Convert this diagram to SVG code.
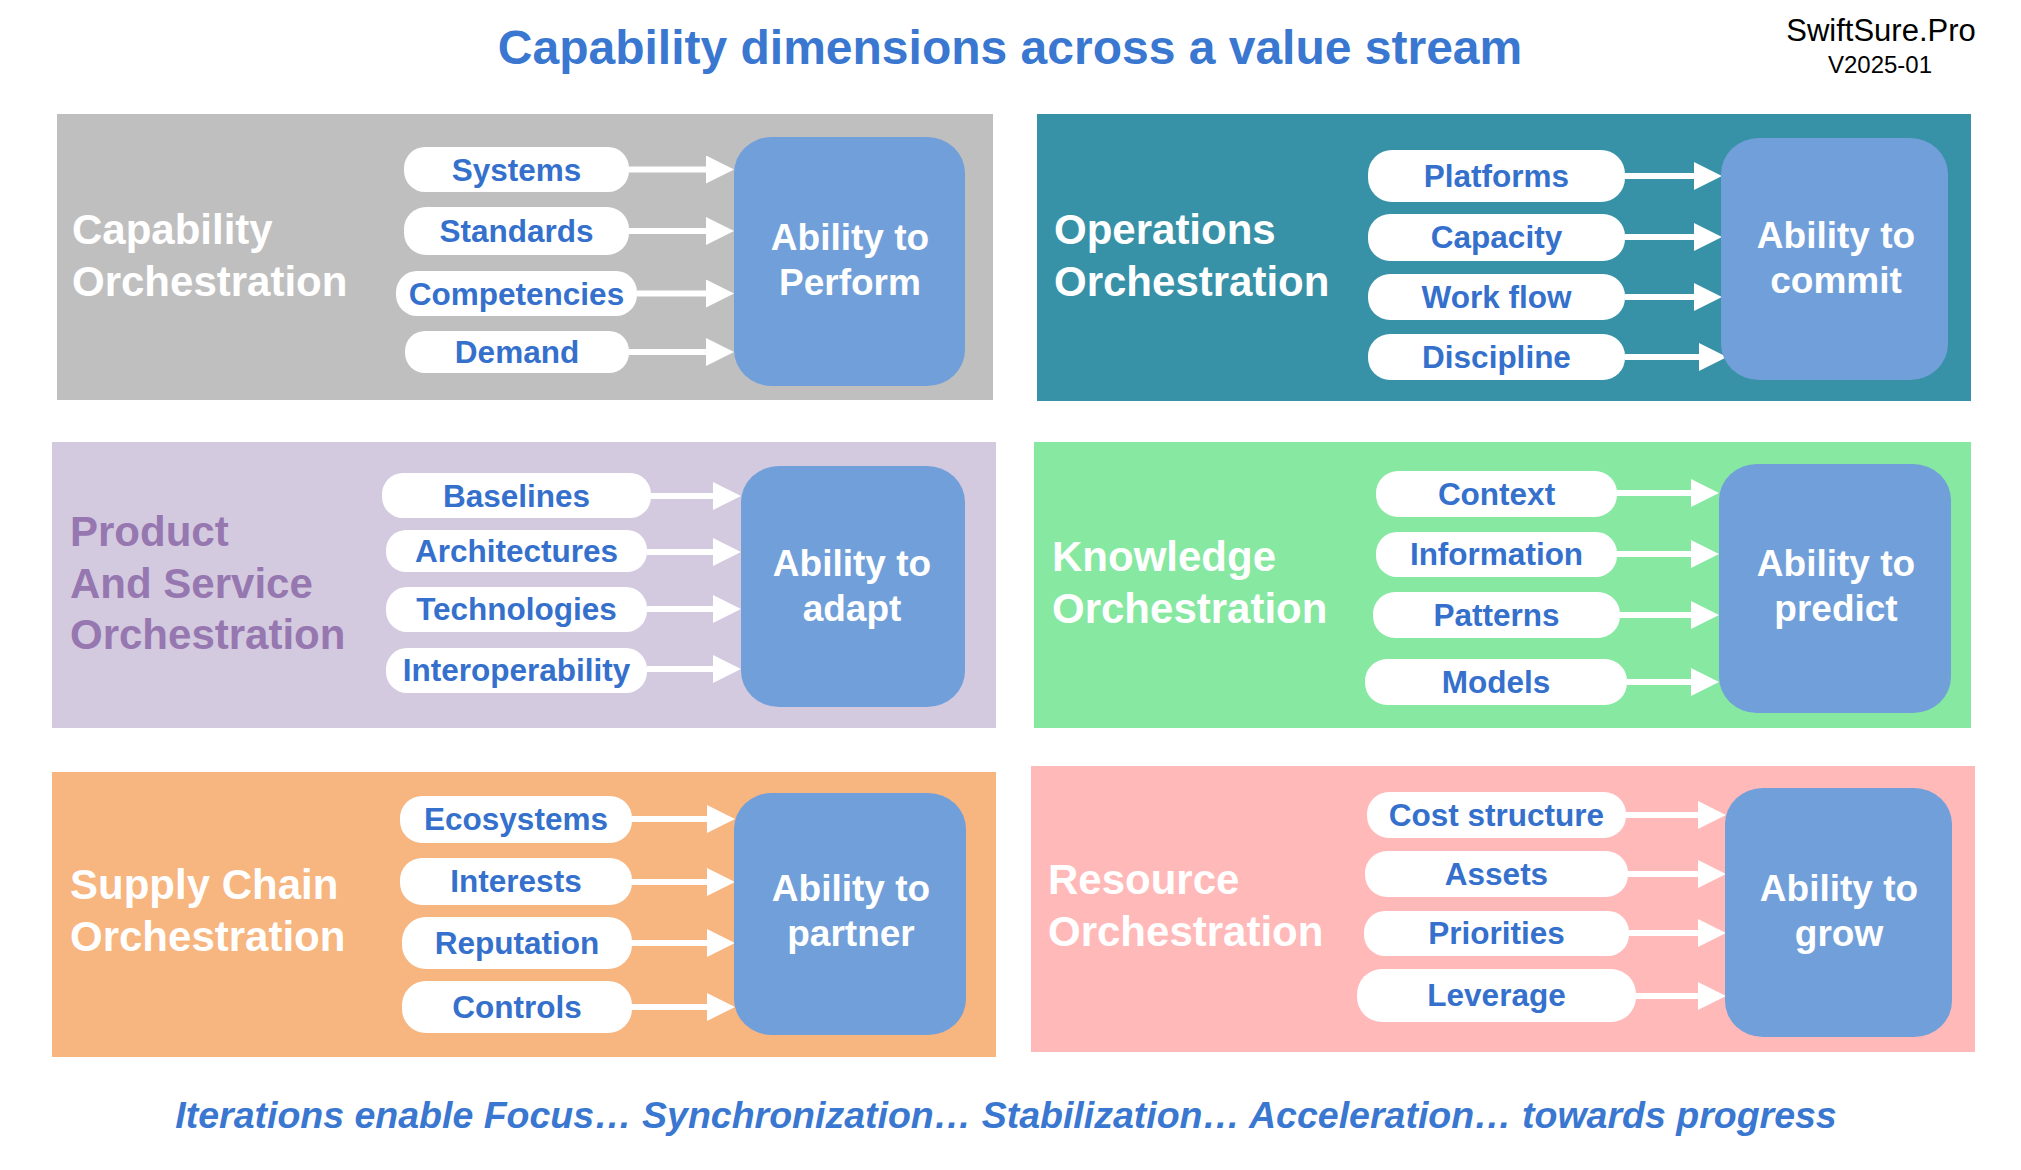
<svg xmlns="http://www.w3.org/2000/svg" width="2021" height="1170" viewBox="0 0 2021 1170">
  <defs>
    <style>
      .txt { font-family: "Liberation Sans", Arial, sans-serif; }
      .heading { font-size: 48px; font-weight: bold; fill: #3A77D0; text-anchor: middle; }
      .brand { font-size: 31px; fill: #000; text-anchor: middle; }
      .ver { font-size: 24px; fill: #000; text-anchor: middle; }
      .footer { font-size: 37.5px; font-weight: bold; font-style: italic; fill: #3A77D0; text-anchor: middle; }
      .ptitle { font-size: 42px; font-weight: bold; fill: #fff; }
      .ptitle.purple { fill: #9677B0; }
      .pill { fill: #fff; }
      .pill-t { font-size: 31.5px; font-weight: bold; fill: #3470CC; text-anchor: middle; }
      .ability { fill: #719FDA; }
      .ability-t { font-size: 37px; font-weight: bold; fill: #fff; text-anchor: middle; }
      .arrow { stroke: #fff; stroke-width: 6; fill: none; marker-end: url(#head); }
    </style>
    <marker id="head" viewBox="0 0 28 28" markerWidth="28" markerHeight="28" refX="0" refY="14" orient="auto" markerUnits="userSpaceOnUse">
      <path d="M0,0 L28,14 L0,28 Z" fill="#fff"/>
    </marker>
  </defs>

  <rect width="2021" height="1170" fill="#fff"/>

  <!-- header -->
  <text class="txt heading" x="1010" y="64">Capability dimensions across a value stream</text>
  <text class="txt brand" x="1881" y="41">SwiftSure.Pro</text>
  <text class="txt ver" x="1880" y="73">V2025-01</text>

  <!-- panel backgrounds -->
  <g id="panel-capability">
    <rect x="57" y="114" width="936" height="286" fill="#BFBFBF"/>
    <text class="txt ptitle" x="72" y="244">Capability</text>
    <text class="txt ptitle" x="72" y="296">Orchestration</text>
  </g>
  <g id="panel-operations">
    <rect x="1037" y="114" width="934" height="287" fill="#3791A7"/>
    <text class="txt ptitle" x="1054" y="244">Operations</text>
    <text class="txt ptitle" x="1054" y="296">Orchestration</text>
  </g>
  <g id="panel-product">
    <rect x="52" y="442" width="944" height="286" fill="#D3CAE0"/>
    <text class="txt ptitle purple" x="70" y="546">Product</text>
    <text class="txt ptitle purple" x="70" y="598">And Service</text>
    <text class="txt ptitle purple" x="70" y="649">Orchestration</text>
  </g>
  <g id="panel-knowledge">
    <rect x="1034" y="442" width="937" height="286" fill="#86E8A1"/>
    <text class="txt ptitle" x="1052" y="571">Knowledge</text>
    <text class="txt ptitle" x="1052" y="623">Orchestration</text>
  </g>
  <g id="panel-supply">
    <rect x="52" y="772" width="944" height="285" fill="#F7B57F"/>
    <text class="txt ptitle" x="70" y="899">Supply Chain</text>
    <text class="txt ptitle" x="70" y="951">Orchestration</text>
  </g>
  <g id="panel-resource">
    <rect x="1031" y="766" width="944" height="286" fill="#FFB9B9"/>
    <text class="txt ptitle" x="1048" y="894">Resource</text>
    <text class="txt ptitle" x="1048" y="946">Orchestration</text>
  </g>

  <!-- connectors -->
  <g id="connectors">
    <line class="arrow" x1="629" y1="169.5" x2="706" y2="169.5"/>
    <line class="arrow" x1="629" y1="231" x2="706" y2="231"/>
    <line class="arrow" x1="637" y1="293.5" x2="706" y2="293.5"/>
    <line class="arrow" x1="629" y1="352" x2="706" y2="352"/>

    <line class="arrow" x1="1625" y1="176" x2="1694" y2="176"/>
    <line class="arrow" x1="1625" y1="237" x2="1694" y2="237"/>
    <line class="arrow" x1="1625" y1="297" x2="1694" y2="297"/>
    <line class="arrow" x1="1625" y1="357" x2="1699" y2="357"/>

    <line class="arrow" x1="651" y1="496" x2="713" y2="496"/>
    <line class="arrow" x1="647" y1="552" x2="713" y2="552"/>
    <line class="arrow" x1="647" y1="609" x2="713" y2="609"/>
    <line class="arrow" x1="647" y1="669" x2="713" y2="669"/>

    <line class="arrow" x1="1617" y1="493" x2="1691" y2="493"/>
    <line class="arrow" x1="1617" y1="554" x2="1691" y2="554"/>
    <line class="arrow" x1="1620" y1="615" x2="1691" y2="615"/>
    <line class="arrow" x1="1627" y1="682" x2="1691" y2="682"/>

    <line class="arrow" x1="632" y1="819" x2="707" y2="819"/>
    <line class="arrow" x1="632" y1="882" x2="707" y2="882"/>
    <line class="arrow" x1="632" y1="943" x2="707" y2="943"/>
    <line class="arrow" x1="632" y1="1007" x2="707" y2="1007"/>

    <line class="arrow" x1="1626" y1="815" x2="1698" y2="815"/>
    <line class="arrow" x1="1628" y1="874" x2="1698" y2="874"/>
    <line class="arrow" x1="1629" y1="933" x2="1698" y2="933"/>
    <line class="arrow" x1="1636" y1="996" x2="1698" y2="996"/>
  </g>

  <!-- dimension pills -->
  <g id="pill-systems"><rect class="pill" x="404" y="147" width="225" height="45" rx="21"/><text class="txt pill-t" x="516.5" y="181">Systems</text></g>
  <g id="pill-standards"><rect class="pill" x="404" y="207" width="225" height="48" rx="22"/><text class="txt pill-t" x="516.5" y="242">Standards</text></g>
  <g id="pill-competencies"><rect class="pill" x="396" y="271" width="241" height="45" rx="21"/><text class="txt pill-t" x="516.5" y="305">Competencies</text></g>
  <g id="pill-demand"><rect class="pill" x="405" y="331" width="224" height="42" rx="20"/><text class="txt pill-t" x="517" y="363">Demand</text></g>

  <g id="pill-platforms"><rect class="pill" x="1368" y="150" width="257" height="52" rx="24"/><text class="txt pill-t" x="1496.5" y="187">Platforms</text></g>
  <g id="pill-capacity"><rect class="pill" x="1368" y="214" width="257" height="47" rx="22"/><text class="txt pill-t" x="1496.5" y="248">Capacity</text></g>
  <g id="pill-workflow"><rect class="pill" x="1368" y="274" width="257" height="46" rx="22"/><text class="txt pill-t" x="1496.5" y="308">Work flow</text></g>
  <g id="pill-discipline"><rect class="pill" x="1368" y="334" width="257" height="46" rx="22"/><text class="txt pill-t" x="1496.5" y="368">Discipline</text></g>

  <g id="pill-baselines"><rect class="pill" x="382" y="473" width="269" height="45" rx="21"/><text class="txt pill-t" x="516.5" y="507">Baselines</text></g>
  <g id="pill-architectures"><rect class="pill" x="386" y="530" width="261" height="42" rx="20"/><text class="txt pill-t" x="516.5" y="562">Architectures</text></g>
  <g id="pill-technologies"><rect class="pill" x="386" y="587" width="261" height="45" rx="21"/><text class="txt pill-t" x="516.5" y="620">Technologies</text></g>
  <g id="pill-interoperability"><rect class="pill" x="386" y="648" width="261" height="45" rx="21"/><text class="txt pill-t" x="516.5" y="681">Interoperability</text></g>

  <g id="pill-context"><rect class="pill" x="1376" y="471" width="241" height="46" rx="22"/><text class="txt pill-t" x="1496.5" y="505">Context</text></g>
  <g id="pill-information"><rect class="pill" x="1376" y="532" width="241" height="45" rx="21"/><text class="txt pill-t" x="1496.5" y="565">Information</text></g>
  <g id="pill-patterns"><rect class="pill" x="1373" y="592" width="247" height="46" rx="22"/><text class="txt pill-t" x="1496.5" y="626">Patterns</text></g>
  <g id="pill-models"><rect class="pill" x="1365" y="659" width="262" height="46" rx="22"/><text class="txt pill-t" x="1496" y="693">Models</text></g>

  <g id="pill-ecosystems"><rect class="pill" x="400" y="796" width="232" height="47" rx="22"/><text class="txt pill-t" x="516" y="830">Ecosystems</text></g>
  <g id="pill-interests"><rect class="pill" x="400" y="858" width="232" height="47" rx="22"/><text class="txt pill-t" x="516" y="892">Interests</text></g>
  <g id="pill-reputation"><rect class="pill" x="402" y="917" width="230" height="52" rx="24"/><text class="txt pill-t" x="517" y="954">Reputation</text></g>
  <g id="pill-controls"><rect class="pill" x="402" y="981" width="230" height="52" rx="24"/><text class="txt pill-t" x="517" y="1018">Controls</text></g>

  <g id="pill-cost"><rect class="pill" x="1367" y="792" width="259" height="46" rx="22"/><text class="txt pill-t" x="1496.5" y="826">Cost structure</text></g>
  <g id="pill-assets"><rect class="pill" x="1365" y="851" width="263" height="46" rx="22"/><text class="txt pill-t" x="1496.5" y="885">Assets</text></g>
  <g id="pill-priorities"><rect class="pill" x="1364" y="911" width="265" height="45" rx="21"/><text class="txt pill-t" x="1496.5" y="944">Priorities</text></g>
  <g id="pill-leverage"><rect class="pill" x="1357" y="969" width="279" height="53" rx="25"/><text class="txt pill-t" x="1496.5" y="1006">Leverage</text></g>

  <!-- ability outcomes -->
  <g id="ability-perform"><rect class="ability" x="734" y="137" width="231" height="249" rx="38" ry="36"/><text class="txt ability-t" x="850" y="250">Ability to</text><text class="txt ability-t" x="850" y="295">Perform</text></g>
  <g id="ability-commit"><rect class="ability" x="1721" y="138" width="227" height="242" rx="38" ry="36"/><text class="txt ability-t" x="1836" y="248">Ability to</text><text class="txt ability-t" x="1836" y="293">commit</text></g>
  <g id="ability-adapt"><rect class="ability" x="741" y="466" width="224" height="241" rx="38" ry="36"/><text class="txt ability-t" x="852" y="576">Ability to</text><text class="txt ability-t" x="852" y="621">adapt</text></g>
  <g id="ability-predict"><rect class="ability" x="1719" y="464" width="232" height="249" rx="38" ry="36"/><text class="txt ability-t" x="1836" y="576">Ability to</text><text class="txt ability-t" x="1836" y="621">predict</text></g>
  <g id="ability-partner"><rect class="ability" x="734" y="793" width="232" height="242" rx="38" ry="36"/><text class="txt ability-t" x="851" y="901">Ability to</text><text class="txt ability-t" x="851" y="946">partner</text></g>
  <g id="ability-grow"><rect class="ability" x="1725" y="788" width="227" height="249" rx="38" ry="36"/><text class="txt ability-t" x="1839" y="901">Ability to</text><text class="txt ability-t" x="1839" y="946">grow</text></g>

  <!-- footer -->
  <text class="txt footer" x="1006" y="1128">Iterations enable Focus… Synchronization… Stabilization… Acceleration… towards progress</text>
</svg>
